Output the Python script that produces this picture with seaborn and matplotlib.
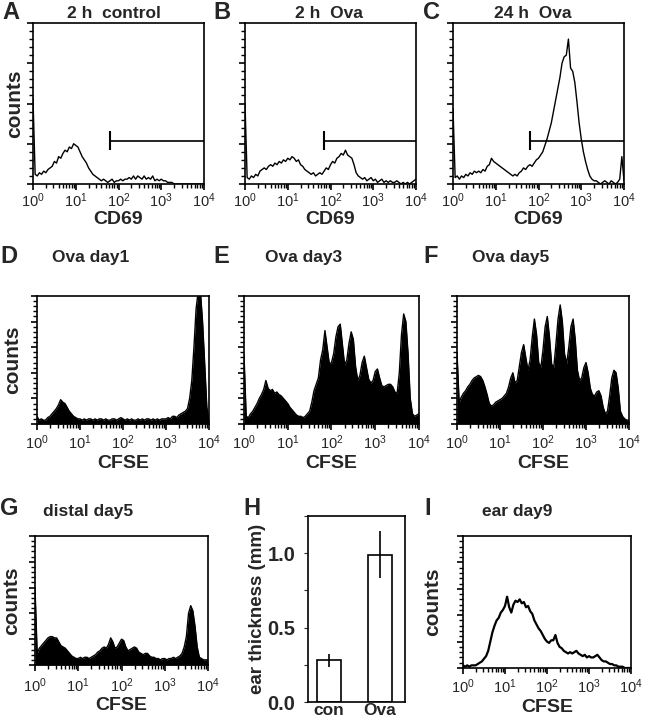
import numpy as np
import pandas as pd
import matplotlib
matplotlib.use("Agg")
import matplotlib.pyplot as plt
import seaborn as sns
from matplotlib.ticker import LogLocator, MultipleLocator, NullFormatter, LogFormatterMathtext

W, H = 646, 720

# fluorescence channels, one value every 0.05 decade from 10^0 to 10^4
decades = np.linspace(0, 4, 81)

# counts as % of panel height
cd69_2h_control = [53, 6, 5, 7, 6, 8, 7, 9, 10, 11,
                   14, 13, 17, 16, 19, 21, 20, 23, 22, 25,
                   24, 23, 20, 17, 15, 13, 10, 8, 6, 5,
                   4, 3, 2, 3, 2, 1, 2, 3, 1, 2,
                   2, 3, 2, 3, 3, 4, 3, 5, 3, 5,
                   4, 3, 5, 3, 4, 3, 5, 2, 3, 2,
                   3, 2, 2, 1, 1, 1, 0, 0, 0, 0,
                   0, 0, 0, 0, 0, 0, 0, 0, 0, 0,
                   0]
cd69_2h_ova = [50, 4, 3, 5, 4, 6, 5, 8, 9, 10,
               9, 11, 12, 11, 13, 12, 14, 13, 15, 14,
               16, 15, 17, 16, 14, 15, 12, 11, 9, 8,
               7, 6, 7, 5, 6, 7, 6, 8, 10, 9,
               12, 14, 13, 16, 17, 19, 18, 21, 18, 17,
               16, 12, 7, 5, 4, 3, 4, 2, 3, 4,
               2, 3, 1, 2, 3, 1, 2, 1, 2, 1,
               1, 2, 1, 0, 1, 0, 1, 0, 1, 2,
               3]
cd69_24h_ova = [47, 4, 5, 3, 5, 4, 6, 5, 7, 6,
                8, 7, 8, 7, 9, 8, 11, 12, 16, 14,
                13, 12, 11, 10, 9, 8, 7, 6, 5, 6,
                5, 7, 8, 10, 9, 11, 12, 11, 13, 15,
                16, 18, 20, 24, 28, 33, 38, 45, 52, 59,
                66, 75, 79, 80, 90, 72, 70, 63, 51, 38,
                28, 20, 14, 9, 5, 3, 2, 2, 1, 0,
                1, 2, 1, 0, 2, 1, 0, 1, 3, 17,
                2]
cfse_ova_day1 = [6, 3, 4, 3, 3, 5, 6, 8, 10, 12,
                 15, 19, 17, 16, 13, 10, 8, 6, 5, 4,
                 4, 3, 4, 3, 4, 4, 3, 4, 3, 4,
                 4, 3, 4, 3, 3, 4, 4, 3, 4, 5,
                 4, 3, 4, 3, 4, 3, 3, 4, 3, 4,
                 3, 4, 4, 3, 4, 3, 4, 3, 4, 4,
                 4, 5, 4, 6, 6, 5, 7, 8, 9, 10,
                 12, 20, 34, 60, 90, 104, 104, 80, 47, 13,
                 3]
cfse_ova_day3 = [54, 6, 5, 8, 10, 13, 16, 20, 23, 27,
                 34, 28, 26, 27, 24, 25, 23, 22, 20, 18,
                 16, 13, 11, 9, 7, 6, 6, 5, 6, 8,
                 10, 17, 26, 31, 36, 50, 58, 73, 60, 47,
                 48, 55, 68, 76, 78, 62, 46, 50, 63, 72,
                 66, 45, 34, 38, 48, 53, 44, 35, 32, 34,
                 41, 43, 36, 30, 29, 30, 31, 31, 29, 25,
                 24, 40, 70, 86, 80, 55, 20, 8, 6, 7,
                 8]
cfse_ova_day5 = [56, 17, 21, 24, 26, 29, 31, 34, 36, 37,
                 38, 37, 34, 29, 23, 16, 14, 15, 17, 18,
                 19, 20, 22, 24, 29, 36, 40, 32, 34, 45,
                 56, 62, 52, 42, 50, 68, 82, 70, 48, 44,
                 58, 76, 84, 68, 47, 44, 62, 82, 93, 80,
                 55, 47, 60, 76, 82, 66, 42, 34, 36, 44,
                 48, 40, 28, 23, 22, 25, 26, 22, 13, 8,
                 10, 22, 36, 42, 40, 28, 10, 6, 4, 3,
                 3]
cfse_distal_day5 = [60, 9, 13, 15, 17, 19, 21, 22, 22, 21,
                    21, 18, 15, 14, 13, 11, 9, 7, 6, 5,
                    5, 6, 5, 6, 6, 5, 6, 7, 8, 10,
                    11, 13, 14, 13, 16, 21, 18, 13, 14, 17,
                    20, 19, 14, 11, 12, 13, 14, 13, 10, 9,
                    8, 9, 9, 7, 6, 6, 5, 5, 4, 5,
                    5, 4, 5, 5, 6, 5, 6, 7, 9, 14,
                    22, 40, 46, 42, 30, 14, 6, 5, 4, 4,
                    4]
cfse_ear_day9 = [2, 1, 2, 1, 2, 2, 2, 3, 4, 5,
                 7, 9, 13, 20, 27, 32, 36, 38, 42, 44,
                 47, 54, 46, 42, 48, 51, 50, 52, 49, 50,
                 46, 47, 43, 41, 36, 33, 30, 28, 25, 22,
                 20, 19, 21, 21, 25, 19, 16, 15, 13, 12,
                 11, 12, 11, 12, 13, 11, 10, 9, 10, 8,
                 9, 8, 8, 9, 10, 8, 6, 5, 5, 4,
                 3, 3, 2, 2, 1, 1, 1, 0, 0, 0,
                 0]

# CD69 positive gate (start in decades, level in % height)
gate_start = [1.80, 1.84, 1.80]
gate_level = [27, 27, 27]

# panel H
groups = ["con", "Ova"]
thickness = [0.28, 0.99]
thickness_err = [0.045, 0.16]

sns.set_style("ticks")
plt.rcParams["font.family"] = ["Liberation Sans", "DejaVu Sans"]
plt.rcParams["mathtext.fontset"] = "custom"
plt.rcParams["mathtext.rm"] = "Liberation Sans"
plt.rcParams["mathtext.default"] = "regular"

fig = plt.figure(figsize=(W / 100, H / 100), dpi=100)


def add_ax(left, top, right, bottom):
    return fig.add_axes([left / W, 1 - bottom / H, (right - left) / W, (bottom - top) / H])


def put(text, x, y, size, ha="left", **kw):
    fig.text(x / W, 1 - y / H, text, fontsize=size, fontweight="bold",
             ha=ha, va="baseline", **kw)


def histo(box, counts, filled, xlabel, label_y, ymajor, ylabel_x=None, lw=1.0, pad=3):
    left, top, right, bottom = box
    ax = add_ax(*box)
    df = pd.DataFrame({"fluor": 10 ** decades, "counts": counts})
    sns.lineplot(data=df, x="fluor", y="counts", ax=ax, color="black", lw=lw, estimator=None)
    if filled:
        ax.fill_between(df["fluor"], df["counts"], color="black", lw=0)
    ax.set_xscale("log")
    ax.set_xlim(1, 1e4)
    ax.set_ylim(0, 100)
    ax.xaxis.set_major_locator(LogLocator(base=10, numticks=10))
    ax.xaxis.set_minor_locator(LogLocator(base=10, subs=np.arange(2, 10), numticks=10))
    ax.xaxis.set_major_formatter(LogFormatterMathtext())
    ax.xaxis.set_minor_formatter(NullFormatter())
    ax.yaxis.set_major_locator(MultipleLocator(ymajor))
    ax.yaxis.set_minor_locator(MultipleLocator(ymajor / 5))
    ax.tick_params(which="major", length=4.5, width=1.2, direction="out", color="black")
    ax.tick_params(which="minor", length=3, width=1, direction="out", color="black")
    ax.tick_params(axis="y", labelleft=False)
    ax.tick_params(axis="x", labelsize=10.5, pad=pad)
    for s in ax.spines.values():
        s.set_linewidth(1.2)
        s.set_color("black")
    ax.set_xlabel(xlabel, fontsize=14, fontweight="bold")
    ax.xaxis.set_label_coords(0.5, -(label_y - bottom) / (bottom - top))
    ax.xaxis.label.set_va("center")
    if ylabel_x is None:
        ax.set_ylabel("")
    else:
        ax.set_ylabel("counts", fontsize=15, fontweight="bold")
        ax.yaxis.set_label_coords((ylabel_x - left) / (right - left), 0.5)
        ax.yaxis.label.set_va("center")
    return ax


# row 1: CD69
row1 = [(33, 23, 204, 184), (245, 23, 416, 184), (453, 23, 624, 184)]
for i, (box, counts) in enumerate(zip(row1, [cd69_2h_control, cd69_2h_ova, cd69_24h_ova])):
    ax = histo(box, counts, False, "CD69", 220, 25, ylabel_x=15 if i == 0 else None, pad=0.5)
    g = 10 ** gate_start[i]
    ax.hlines(gate_level[i], g, 1e4, color="black", lw=1.2)
    ax.vlines(g, gate_level[i] - 6, gate_level[i] + 6, color="black", lw=1.5)

# row 2: CFSE in draining node
row2 = [(37, 296, 209, 424), (244, 296, 419, 424), (457, 296, 629, 424)]
for i, (box, counts) in enumerate(zip(row2, [cfse_ova_day1, cfse_ova_day3, cfse_ova_day5])):
    histo(box, counts, True, "CFSE", 464, 20, ylabel_x=13 if i == 0 else None, pad=2.5)

# row 3
histo((35, 536, 208, 665), cfse_distal_day5, True, "CFSE", 706, 20, ylabel_x=12, pad=3.5)
histo((463, 536, 631, 668), cfse_ear_day9, False, "CFSE", 708, 20, ylabel_x=433, lw=1.6, pad=2.5)

# panel H: ear thickness
axh = add_ax(308, 516, 405, 702)
sns.barplot(x=groups, y=thickness, ax=axh, color="white", edgecolor="black",
            linewidth=1.2, width=0.47, saturation=1, errorbar=None)
axh.errorbar(range(len(groups)), thickness, yerr=thickness_err, fmt="none",
             ecolor="black", elinewidth=1.2, capsize=0)
axh.set_xlim(-0.41, 1.49)
axh.set_ylim(0, 1.25)
axh.yaxis.set_major_locator(MultipleLocator(0.5))
axh.yaxis.set_minor_locator(MultipleLocator(0.25))
axh.yaxis.set_major_formatter(matplotlib.ticker.FormatStrFormatter("%.1f"))
axh.tick_params(axis="y", which="both", length=3, width=0.8, direction="out", pad=6)
axh.tick_params(axis="x", length=0, pad=1)
for lab in axh.get_yticklabels():
    lab.set_fontsize(14.5)
    lab.set_fontweight("bold")
for lab in axh.get_xticklabels():
    lab.set_fontsize(12.5)
    lab.set_fontweight("bold")
for s in axh.spines.values():
    s.set_linewidth(1.2)
    s.set_color("black")
axh.set_ylabel("ear thickness (mm)", fontsize=13.5, fontweight="bold")
axh.yaxis.set_label_coords((257 - 308) / 97, 0.5)
axh.yaxis.label.set_va("center")

# panel letters
for letter, x, y in [("A", 2, 19), ("B", 213, 19), ("C", 423, 19),
                     ("D", 0, 263), ("E", 213, 263), ("F", 423, 263),
                     ("G", 0, 515), ("H", 243, 515), ("I", 424, 515)]:
    put(letter, x, y, 17)

# panel titles
put("2 h  control", 114, 18, 12.5, ha="center")
put("2 h  Ova", 329, 18, 12.5, ha="center")
put("24 h  Ova", 533, 18, 12.5, ha="center")
put("Ova day1", 52, 262, 12.5)
put("Ova day3", 265, 262, 12.5)
put("Ova day5", 472, 262, 12.5)
put("distal day5", 43, 516, 12.5)
put("ear day9", 482, 516, 12.5)

fig.savefig("out.png", dpi=100)
